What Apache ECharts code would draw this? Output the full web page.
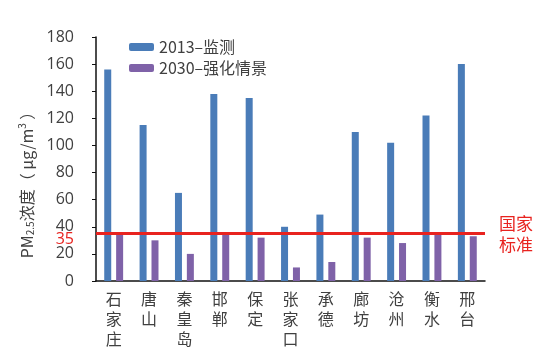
<!DOCTYPE html>
<html><head><meta charset="utf-8">
<script src="https://cdn.jsdelivr.net/npm/echarts@6/dist/echarts.min.js"></script>
<style>html,body{margin:0;padding:0;background:#fff}#c{width:550px;height:361px}</style>
</head><body><div id="c"></div>
<script>
const categories = ['石家庄','唐山','秦皇岛','邯郸','保定','张家口','承德','廊坊','沧州','衡水','邢台'];
const monitored2013 = [156,115,65,138,135,40,49,110,102,122,160];
const scenario2030 = [34,30,20,35,32,10,14,32,28,34,33];
const seriesNames = ['2013–监测','2030–强化情景'];
const standardValue = 35;
const yTicks = [0,20,40,60,80,100,120,140,160,180];

const font = '"Noto Sans CJK SC","Noto Sans",sans-serif';
const chart = echarts.init(document.getElementById('c'));
chart.setOption({
  animation:false,
  textStyle:{fontFamily:font},
  grid:{left:96,right:65,top:37,bottom:80,containLabel:false},
  legend:{
    data:seriesNames, orient:'vertical', left:124, top:34, itemWidth:25, itemHeight:8, itemGap:5,
    textStyle:{fontSize:16,color:'#404040',fontFamily:font}
  },
  xAxis:{
    type:'category', data:categories,
    axisLine:{lineStyle:{color:'#111',width:1.5}},
    axisTick:{show:false},
    axisLabel:{interval:0,fontSize:16,color:'#404040',lineHeight:20,margin:8,
      formatter:v=>v.split('').join('\n'), verticalAlign:'top'}
  },
  yAxis:{
    type:'value', min:0, max:180, interval:20,
    splitLine:{show:false},
    axisLine:{show:true,lineStyle:{color:'#111',width:1.5}},
    axisTick:{show:true,inside:false,length:4,lineStyle:{color:'#111'}},
    axisLabel:{fontSize:16,color:'#404040',margin:22,fontFamily:'"Open Sans","Noto Sans",sans-serif',
      formatter:v=>yTicks.includes(v)?String(v):''},
    name:'{a|PM}{sub|2.5}{a|浓度（ μg/m}{sup|3}{a| ）}',
    nameLocation:'middle', nameGap:58, nameRotate:90,
    nameTextStyle:{padding:[0,44,0,0],rich:{
      a:{fontSize:16,color:'#404040',fontFamily:font},
      sub:{fontSize:10,color:'#404040',verticalAlign:'bottom',padding:[8,0,0,0]},
      sup:{fontSize:10,color:'#404040',verticalAlign:'top',padding:[0,0,8,0]}
    }}
  },
  series:[
    {name:seriesNames[0],type:'bar',data:monitored2013,barWidth:7,barGap:'70%',
      itemStyle:{color:'#4a7cb8'},
      markLine:{silent:true,symbol:'none',
        lineStyle:{color:'#e8231f',width:3,type:'solid'},
        data:[
          {yAxis:standardValue,label:{show:true,position:'start',formatter:'\n35',lineHeight:12,color:'#e8231f',fontSize:16,distance:22,fontFamily:'"Open Sans","Noto Sans",sans-serif'}},
          {yAxis:standardValue,label:{show:true,position:'end',formatter:'国家\n标准',color:'#e8231f',fontSize:17,lineHeight:21,distance:14,fontFamily:font}}
        ]}
    },
    {name:seriesNames[1],type:'bar',data:scenario2030,barWidth:7,itemStyle:{color:'#7f62a8'}}
  ]
});
</script></body></html>
